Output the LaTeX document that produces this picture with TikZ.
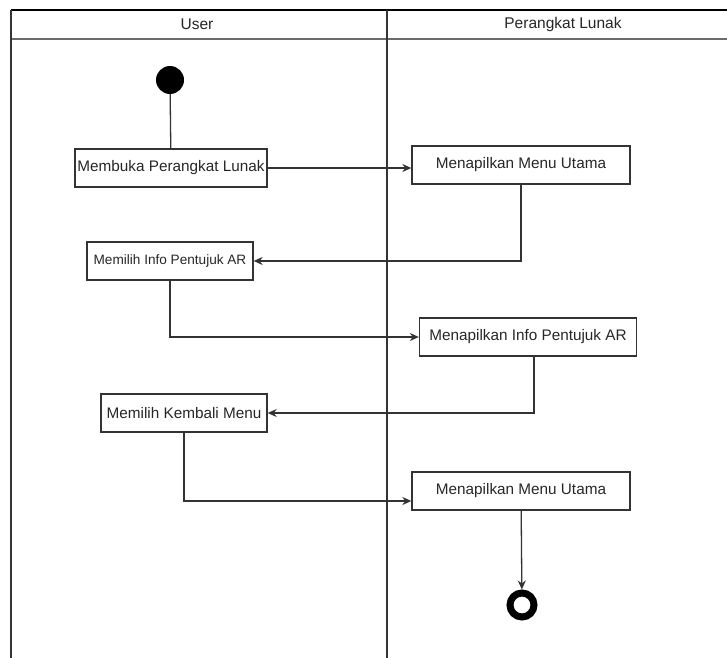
\documentclass[tikz,border=0pt]{standalone}
\usepackage{fontspec}
\setmainfont{Liberation Sans}
\usetikzlibrary{arrows.meta}
\definecolor{linegray}{HTML}{333333}
\definecolor{textgray}{HTML}{262626}
\definecolor{headrule}{HTML}{6A6A6A}

\begin{document}
\begin{tikzpicture}[x=1pt,y=-1pt,
    act/.style={shape=rectangle,draw=linegray,line width=1.3pt,minimum height=38pt,inner sep=2pt,
                text=textgray,font=\fontsize{15.3}{18}\selectfont},
    flow/.style={draw=linegray,line width=1.3pt,-{Stealth[length=9pt,width=8pt]}},
    lane/.style={draw=linegray,line width=1.8pt},
    head/.style={text=textgray,font=\fontsize{15.5}{18}\selectfont}]
    \useasboundingbox (0,0) rectangle (727,658);

    % swimlanes
    \draw[lane,draw=black] (11,10) -- (727,10);
    \draw[lane,draw=headrule,line width=2.4pt] (11,39) -- (727,39);
    \draw[lane] (11,10) -- (11,658);
    \draw[lane] (387,10) -- (387,658);
    \node[head] (user) at (197,24) {User};
    \node[head] (soft) at (563,24) {Perangkat Lunak};

    % activities
    \node[shape=circle,fill=black,minimum size=28pt,inner sep=0pt] (start) at (170,80) {};
    \node[act,minimum width=192pt] (m1) at (171,168) {Membuka Perangkat Lunak};
    \node[act,minimum width=218pt] (s1) at (521,165) {Menapilkan Menu Utama};
    \node[act,minimum width=166pt,font=\fontsize{13.6}{16}\selectfont] (m2) at (170,261) {Memilih Info Pentujuk AR};
    \node[act,minimum width=217pt] (s2) at (528,337) {Menapilkan Info Pentujuk AR};
    \node[act,minimum width=166pt] (m3) at (184,413) {Memilih Kembali Menu};
    \node[act,minimum width=218pt] (s3) at (521,491) {Menapilkan Menu Utama};
    \node[shape=circle,draw=black,line width=7pt,minimum size=24pt,inner sep=0pt] (stop) at (522,605) {};

    \draw[draw=linegray,line width=1.3pt] (start) -- (m1);
    \draw[flow] (m1.east) -- (m1.east -| s1.west);
    \draw[flow] (s1.south) |- (m2.east);
    \draw[flow] (m2.south) |- (s2.west);
    \draw[flow] ([xshift=6pt]s2.south) |- (m3.east);
    \draw[flow] (m3.south) |- ([yshift=-10pt]s3.west);
    \draw[flow] (s3) -- (stop);
\end{tikzpicture}
\end{document}
